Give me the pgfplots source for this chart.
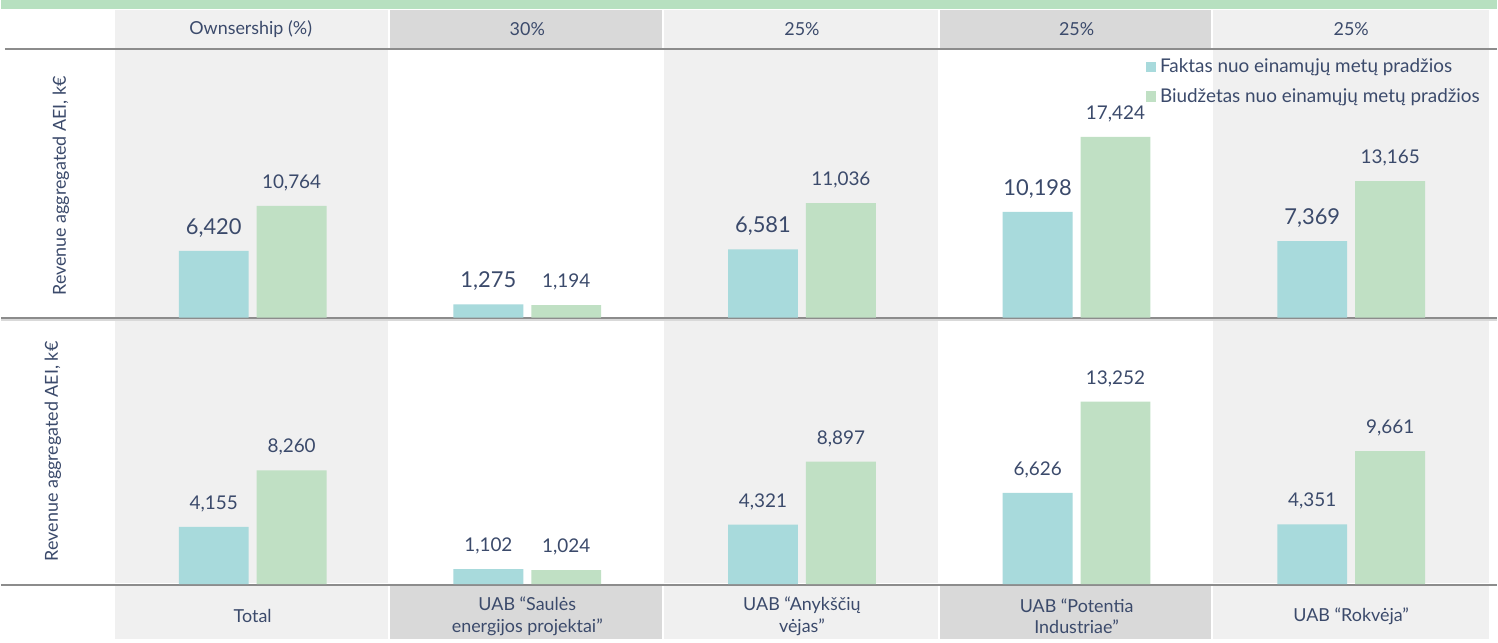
\documentclass[border=0pt]{standalone}
\usepackage{pgfplots}
\pgfplotsset{compat=1.18}
\usepackage{fontspec}
\setmainfont{Lato}
\definecolor{txt}{RGB}{59,74,107}
\definecolor{fak}{RGB}{168,218,220}
\definecolor{bud}{RGB}{192,224,196}
\definecolor{lg}{RGB}{240,240,240}
\definecolor{dg}{RGB}{217,217,217}
\definecolor{band}{RGB}{183,224,192}
\definecolor{rulec}{RGB}{140,140,140}
\pgfplotsset{/pgf/number format/assume math mode=true}
\newcommand{\lab}{\fontsize{9}{11}\selectfont}
\begin{document}
\begin{tikzpicture}[x=0.5bp,y=-0.5bp]
\fill[white] (0,0) rectangle (1498,640);
\fill[band] (0,0) rectangle (1498,9);
% header row
\fill[lg] (114,10) rectangle (388,48);
\fill[dg] (390,10) rectangle (662,48);
\fill[lg] (664,10) rectangle (938,48);
\fill[dg] (940,10) rectangle (1212,48);
\fill[lg] (1214,10) rectangle (1490,48);
% body
\foreach \a/\b in {114/388,664/938,1214/1490}{
  \fill[lg] (\a,50) rectangle (\b,317);
  \fill[lg] (\a,321) rectangle (\b,584);
}
% bottom row
\fill[lg] (114,587) rectangle (388,640);
\fill[dg] (390,587) rectangle (662,640);
\fill[lg] (664,587) rectangle (938,640);
\fill[dg] (940,587) rectangle (1212,640);
\fill[lg] (1214,587) rectangle (1490,640);
% rules
\draw[rulec, line width=1bp] (4,49) -- (1498,49);
\draw[rulec, line width=1bp] (0,318) -- (1498,318);
\draw[black!15, line width=1bp] (0,320.5) -- (1498,320.5);
\draw[rulec, line width=1bp] (0,586) -- (1498,586);
% header texts
\begin{scope}[every node/.style={text=txt, font=\lab}]
\node at (250,29) {Ownsership (\%)};
\node at (527,29) {30\%};
\node at (802,29) {25\%};
\node at (1077,29) {25\%};
\node at (1352,29) {25\%};
\node[rotate=90] at (60,186) {Revenue aggregated AEI, k€};
\node[rotate=90] at (52,452) {Revenue aggregated AEI, k€};
\node[align=center] at (252,617) {Total};
\node[align=center] at (527,617) {UAB “Saulės\\energijos projektai”};
\node[align=center] at (802,617) {UAB “Anykščių\\vėjas”};
\node[align=center] at (1077,617) {UAB “Potentia\\Industriae”};
\node[align=center] at (1352,617) {UAB “Rokvėja”};
\end{scope}
\coordinate (TA) at (114.5,318);
\coordinate (BA) at (114.5,585);
% top axis
\begin{axis}[at={(TA)}, anchor=south west, scale only axis,
  width=687.5bp, height=134bp, xmin=-0.5, xmax=4.5, ymin=0, ymax=25800,
  axis lines=none, ybar, bar width=35bp, clip=false,
  nodes near coords={\pgfmathprintnumber[fixed,1000 sep={,}]{\pgfplotspointmeta}},
  every node near coord/.append style={anchor=center, yshift=11.5bp, text=txt},
  legend style={at={(0.750,0.985)}, anchor=north west, draw=none, fill=none,
    font=\fontsize{9.5}{11}\selectfont, text=txt, row sep=2.5bp, inner sep=0pt, cells={anchor=west}},
  legend image code/.code={\fill[#1] (0bp,-2.6bp) rectangle (5.2bp,2.6bp);},
  ]
\addplot[fill=fak, draw=none, bar shift=-19.5bp,
  every node near coord/.append style={font=\fontsize{11}{13}\selectfont}]
  coordinates {(0,6420) (1,1275) (2,6581) (3,10198) (4,7369)};
\addplot[fill=bud, draw=none, bar shift=19.5bp,
  every node near coord/.append style={font=\fontsize{9.5}{11}\selectfont}]
  coordinates {(0,10764) (1,1194) (2,11036) (3,17424) (4,13165)};
\legend{Faktas nuo einamųjų metų pradžios, Biudžetas nuo einamųjų metų pradžios}
\end{axis}
% bottom axis
\begin{axis}[at={(BA)}, anchor=south west, scale only axis,
  width=687.5bp, height=132.5bp, xmin=-0.5, xmax=4.5, ymin=0, ymax=19200,
  axis lines=none, ybar, bar width=35bp, clip=false,
  nodes near coords={\pgfmathprintnumber[fixed,1000 sep={,}]{\pgfplotspointmeta}},
  every node near coord/.append style={anchor=center, yshift=11.5bp, text=txt,
    font=\fontsize{9.5}{11}\selectfont},
  ]
\addplot[fill=fak, draw=none, bar shift=-19.5bp]
  coordinates {(0,4155) (1,1102) (2,4321) (3,6626) (4,4351)};
\addplot[fill=bud, draw=none, bar shift=19.5bp]
  coordinates {(0,8260) (1,1024) (2,8897) (3,13252) (4,9661)};
\end{axis}
\end{tikzpicture}
\end{document}
